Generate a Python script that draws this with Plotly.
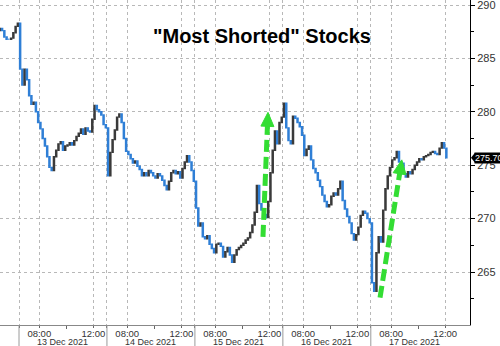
import plotly.graph_objects as go

# ---------------- data ----------------
SESSION_HOURS = 6.5          # 06:30 - 13:00 local session
BAR_MINUTES = 10
DAY_LABELS = ["13 Dec 2021", "14 Dec 2021", "15 Dec 2021", "16 Dec 2021", "17 Dec 2021"]
TICK_HOURS = [1.5, 5.5]      # hours after the open
TICK_TEXT = ["08:00", "12:00"]
MINOR_HOURS = [3.5]          # 10:00
Y_TICKS = [265, 270, 275, 280, 285, 290]
Y_MINOR = [262.5, 267.5, 272.5, 277.5, 282.5, 287.5]
LAST_PRICE = 275.70
TITLE = '"Most Shorted" Stocks'

PREV_OPEN = 287.6
PREV_DAY = [287.8, 287.6, 287.0, 286.8, 286.8, 286.9, 287.4, 288.0, 288.3]
DEC13 = [284.0, 282.5, 284.0, 283.0, 281.5, 280.7, 280.9, 280.0, 279.0, 278.4,
         277.5, 276.8, 275.8, 274.8, 274.5, 275.8, 276.4, 277.0, 277.2, 276.4,
         276.8, 276.9, 277.1, 276.9, 277.3, 277.7, 278.0, 278.4, 277.9, 278.5,
         278.2, 278.1, 279.3, 280.6, 280.2, 280.0, 279.7, 278.8, 278.5]
DEC14 = [274.0, 276.2, 277.4, 278.3, 279.5, 279.8, 279.0, 277.5, 276.3, 276.0,
         275.6, 275.2, 275.4, 274.9, 274.6, 274.0, 274.3, 274.0, 274.5, 274.3,
         274.0, 273.8, 274.2, 274.0, 273.6, 273.1, 272.7, 273.5, 274.3, 274.5,
         274.2, 274.4, 273.8, 274.7, 275.3, 275.9, 275.3, 274.5, 273.5]
DEC15 = [271.0, 269.3, 269.6, 268.3, 268.1, 268.4, 267.6, 267.2, 266.8, 267.6,
         267.7, 267.4, 266.4, 266.9, 267.3, 266.6, 265.9, 266.6, 267.1, 267.3,
         267.5, 267.7, 268.0, 268.2, 268.7, 269.4, 270.6, 273.1, 271.4, 270.8,
         270.4, 270.1, 271.6, 274.3, 276.4, 278.2, 277.0, 279.0, 279.5]
DEC16 = [280.8, 278.5, 277.3, 277.0, 279.6, 279.4, 279.0, 278.6, 277.8, 275.9,
         276.5, 276.8, 275.5, 274.7, 274.3, 273.6, 273.0, 272.2, 271.6, 271.1,
         271.3, 272.1, 272.4, 272.2, 272.8, 273.5, 271.7, 270.9, 270.2, 269.6,
         268.6, 268.0, 268.5, 269.2, 270.3, 270.7, 270.5, 270.0, 269.6]
DEC17 = [264.0, 263.2, 266.8, 268.3, 267.8, 270.8, 272.8, 274.0, 274.8, 275.5,
         275.7, 276.3, 275.3, 275.2, 274.2, 273.9, 274.4, 274.2, 274.6, 275.0,
         275.3, 275.6, 275.5, 275.8, 275.9, 276.0, 276.2, 276.3, 276.1, 276.0,
         276.6, 277.1, 276.6, 275.7]
SESSIONS = [DEC13, DEC14, DEC15, DEC16, DEC17]

# ---------------- build series ----------------
bar_h = BAR_MINUTES / 60.0
xs, closes = [], []
n_prev = len(PREV_DAY)
for i, c in enumerate(PREV_DAY):
    xs.append(-n_prev * bar_h + (i + 0.5) * bar_h)
    closes.append(c)
for d, day in enumerate(SESSIONS):
    for i, c in enumerate(day):
        xs.append(d * SESSION_HOURS + (i + 0.5) * bar_h)
        closes.append(c)
opens = [PREV_OPEN] + closes[:-1]
highs = [max(o, c) for o, c in zip(opens, closes)]
lows = [min(o, c) for o, c in zip(opens, closes)]

# ---------------- layout constants ----------------
W, H = 500, 346
M_L, M_R, M_T, M_B = 0, 30, 0, 21
PW, PH = W - M_L - M_R, H - M_T - M_B
X_RANGE = [-1.404, 33.33]
Y_RANGE = [260.04, 290.47]
GREEN = "#33dd33"
FONT = "Liberation Sans, Arial"
ARROWS = [((18.03, 268.3), (18.40, 279.95)),
          ((26.68, 262.6), (28.29, 275.5))]


def to_px(u, p):
    return ((u - X_RANGE[0]) / (X_RANGE[1] - X_RANGE[0]) * PW,
            (Y_RANGE[1] - p) / (Y_RANGE[1] - Y_RANGE[0]) * PH)


def to_data(px, py):
    return (X_RANGE[0] + px / PW * (X_RANGE[1] - X_RANGE[0]),
            Y_RANGE[1] - py / PH * (Y_RANGE[1] - Y_RANGE[0]))


fig = go.Figure()
fig.add_trace(go.Candlestick(
    x=xs, open=opens, high=highs, low=lows, close=closes,
    increasing=dict(line=dict(color="#3a3a3a", width=1.4), fillcolor="#7a7a7a"),
    decreasing=dict(line=dict(color="#2f7fd6", width=1.4), fillcolor="#5d9fe3"),
    whiskerwidth=0, hoverinfo="skip", showlegend=False,
))

day_starts = [d * SESSION_HOURS for d in range(len(SESSIONS))]
tickvals, ticktext, minor_vals = [], [], []
for s in day_starts:
    tickvals.append(s)
    ticktext.append("")
    for h, t in zip(TICK_HOURS, TICK_TEXT):
        tickvals.append(s + h)
        ticktext.append(t)
    for h in MINOR_HOURS:
        minor_vals.append(s + h)

shapes = []
for s in day_starts:
    shapes.append(dict(type="line", xref="x", yref="paper", x0=s, x1=s,
                       y0=-M_B / PH, y1=0, line=dict(color="#9a9a9a", width=1)))

for (tail, tip) in ARROWS:
    tx, ty = to_px(*tail)
    hx, hy = to_px(*tip)
    dx, dy = hx - tx, hy - ty
    L = (dx * dx + dy * dy) ** 0.5
    ux, uy = dx / L, dy / L
    head_len, head_half = 14.0, 6.5
    bx, by = hx - ux * head_len, hy - uy * head_len
    c1 = to_data(bx - uy * head_half, by + ux * head_half)
    c2 = to_data(bx + uy * head_half, by - ux * head_half)
    send = to_data(bx + ux * 2, by + uy * 2)
    shapes.append(dict(type="line", xref="x", yref="y", x0=tail[0], y0=tail[1],
                       x1=send[0], y1=send[1],
                       line=dict(color=GREEN, width=5, dash="12px,5px")))
    shapes.append(dict(type="path", xref="x", yref="y",
                       path=f"M {tip[0]},{tip[1]} L {c1[0]},{c1[1]} L {c2[0]},{c2[1]} Z",
                       fillcolor=GREEN, line=dict(color=GREEN, width=1)))

# pointer of the last-price tag
shapes.append(dict(type="path", xref="paper", yref="y", xsizemode="pixel", ysizemode="pixel",
                   xanchor=1, yanchor=LAST_PRICE,
                   path="M 1,0 L 5,5 L 5,-5 Z", fillcolor="black", line=dict(width=0)))

annotations = [dict(text=f"<b>{TITLE}</b>", xref="paper", yref="paper",
                    x=261.7 / PW, y=1 - 36.3 / PH, xanchor="center", yanchor="middle",
                    showarrow=False, font=dict(family=FONT, size=20, color="black"))]
for s, lab in zip(day_starts, DAY_LABELS):
    annotations.append(dict(text=lab, xref="x", yref="paper", x=s + SESSION_HOURS / 2, y=0,
                            yanchor="middle", yshift=-17, showarrow=False,
                            font=dict(family=FONT, size=9, color="#333333")))
annotations.append(dict(text=f"{LAST_PRICE:.2f}", xref="paper", yref="y", x=1, y=LAST_PRICE,
                        xanchor="left", yanchor="middle", xshift=4, showarrow=False,
                        bgcolor="black", borderpad=0,
                        font=dict(family=FONT, size=9, color="white")))

fig.update_layout(
    width=W, height=H, margin=dict(l=M_L, r=M_R, t=M_T, b=M_B),
    plot_bgcolor="white", paper_bgcolor="white", showlegend=False,
    shapes=shapes, annotations=annotations,
    xaxis=dict(range=X_RANGE, tickmode="array", tickvals=tickvals, ticktext=ticktext,
               showgrid=True, gridcolor="#b8b8b8", griddash="dot", gridwidth=1,
               ticks="outside", ticklen=2, tickcolor="#666666", ticklabelstandoff=-2,
               showline=True, linecolor="#888888", linewidth=1, zeroline=False,
               tickfont=dict(family=FONT, size=9.5, color="#333333"),
               rangeslider=dict(visible=False),
               minor=dict(tickmode="array", tickvals=minor_vals, ticks="outside",
                          ticklen=3, tickcolor="#666666", showgrid=False)),
    yaxis=dict(range=Y_RANGE, side="right", tickmode="array", tickvals=Y_TICKS,
               showgrid=True, gridcolor="#b8b8b8", griddash="dot", gridwidth=1,
               ticks="outside", ticklen=4, tickcolor="black", ticklabeloverflow="allow",
               showline=True, linecolor="black", linewidth=1, zeroline=False,
               tickfont=dict(family=FONT, size=11, color="#333333"),
               minor=dict(tickmode="array", tickvals=Y_MINOR, ticks="outside",
                          ticklen=3, tickcolor="black", showgrid=False)),
)

fig.write_html("out.html")
